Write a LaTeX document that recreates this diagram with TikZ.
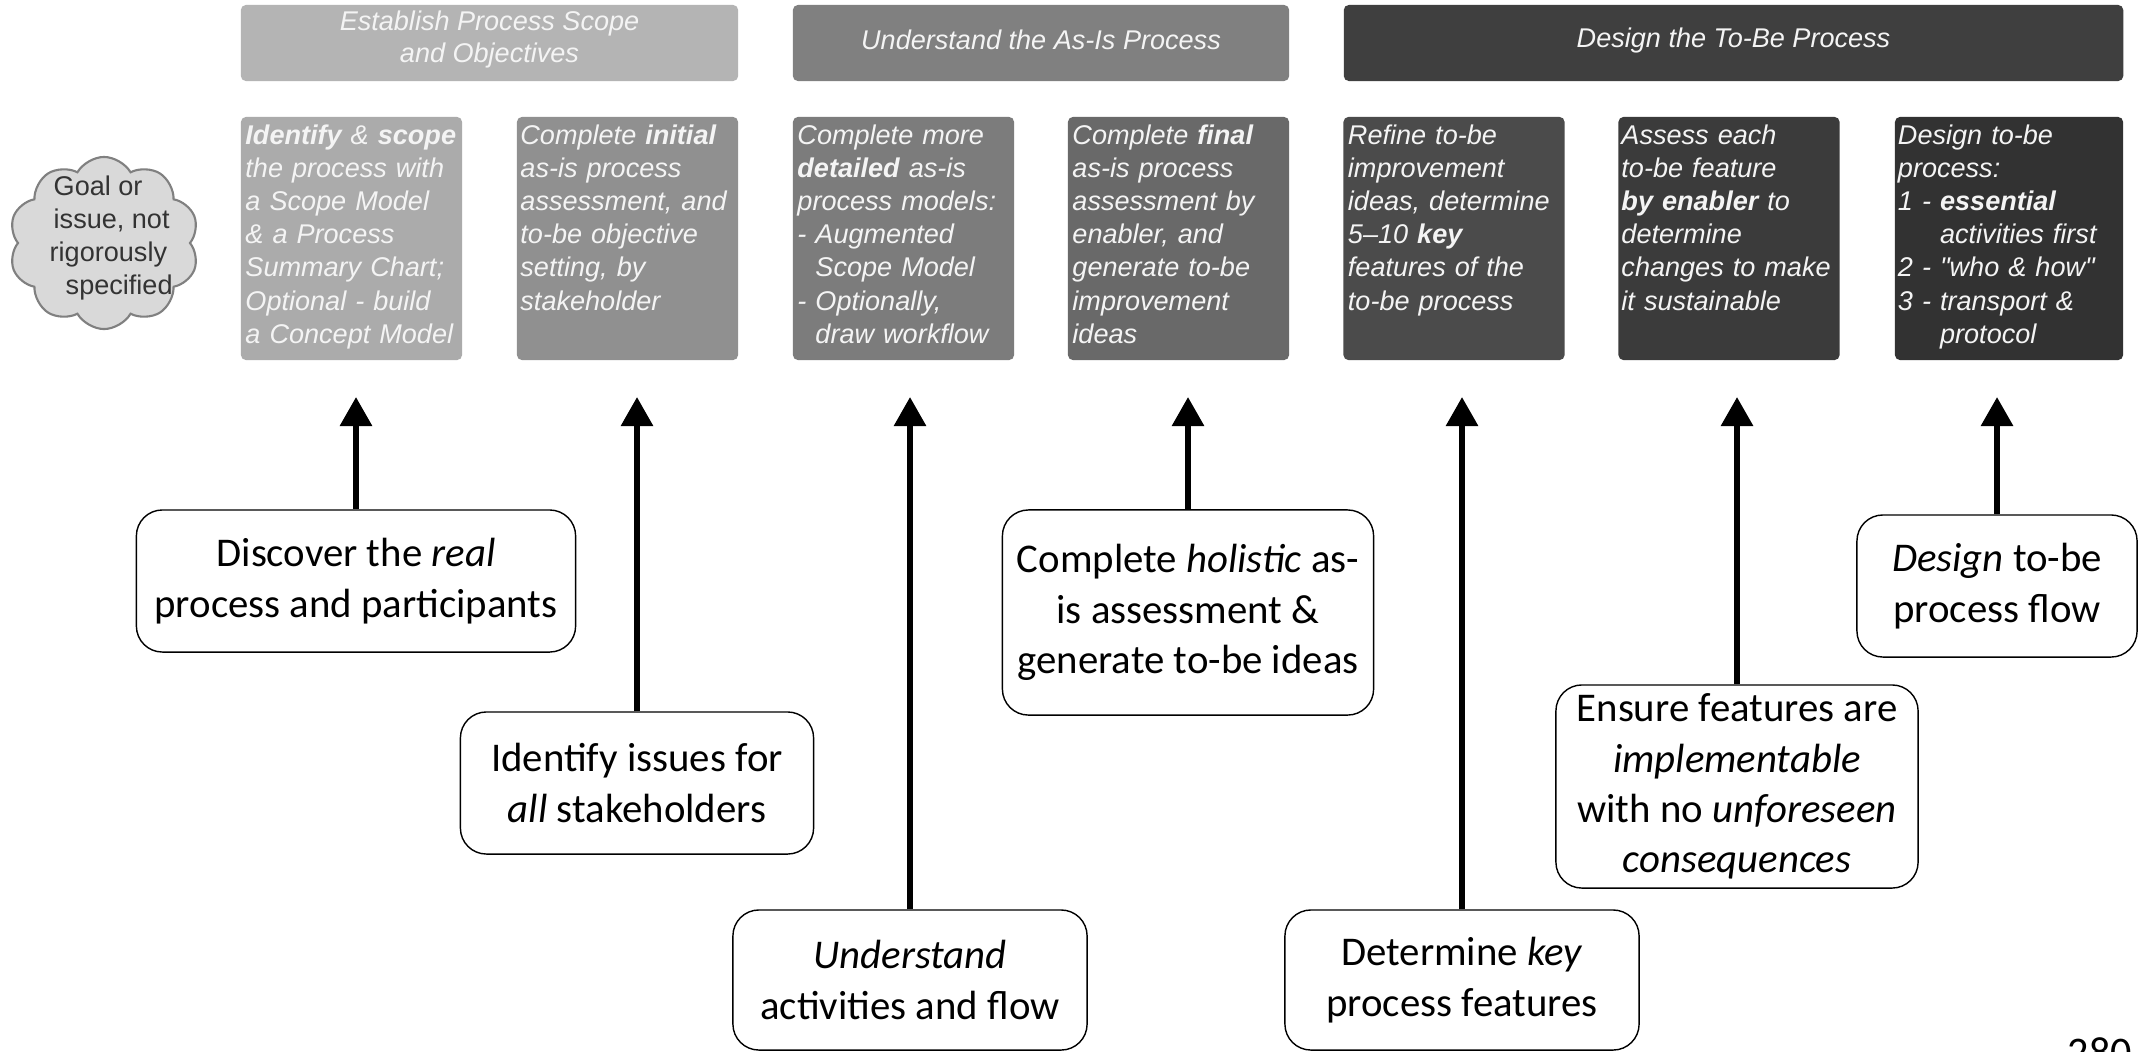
\documentclass[tikz,border=0pt]{standalone}
\usepackage{fontspec}
\setmainfont{Carlito}
\newfontfamily\arialf{Liberation Sans}
\usetikzlibrary{arrows.meta,shapes.symbols}

\definecolor{hdA}{HTML}{B4B4B4}
\definecolor{bxA}{HTML}{ABABAB}
\definecolor{bxB}{HTML}{909090}
\definecolor{hdB}{HTML}{808080}
\definecolor{bxC}{HTML}{7C7C7C}
\definecolor{bxD}{HTML}{696969}
\definecolor{bxE}{HTML}{4B4B4B}
\definecolor{hdC}{HTML}{3F3F3F}
\definecolor{bxF}{HTML}{3B3B3B}
\definecolor{bxG}{HTML}{323232}
\definecolor{txtL}{HTML}{F4F4F4}
\definecolor{cloudF}{HTML}{D9D9D9}
\definecolor{cloudD}{HTML}{808080}
\definecolor{cloudT}{HTML}{333333}

\begin{document}
\begin{tikzpicture}[x=0.01cm,y=-0.01cm,
  phase/.style={rounded corners=0.05cm, inner sep=0, minimum height=0.76cm},
  stepbox/.style={rounded corners=0.05cm, inner sep=0, minimum width=2.21cm, minimum height=2.43cm},
  phasetext/.style={font=\arialf\itshape\fontsize{7.7}{9.1}\selectfont, text=txtL, align=center, inner sep=0},
  boxtext/.style={font=\arialf\itshape\fontsize{7.7}{9.45}\selectfont, text=txtL, align=left, inner sep=0, anchor=north west, text width=2.17cm},
  note/.style={draw=black, line width=0.4pt, fill=white, rounded corners=0.26cm, align=center, inner sep=0, font=\fontsize{11.6}{14.3}\selectfont},
  arr/.style={line width=1.7pt, -{Triangle[width=0.31cm,length=0.29cm]}}
]
\useasboundingbox (0,0) rectangle (2140,1051);
\fill[white] (0,0) rectangle (2140,1051);

% phase headers
\node[phase, fill=hdA, minimum width=4.97cm] (h1) at (489.5,43) {};
\node[phasetext] (h1t) at (489.5,39) {Establish Process Scope\\and Objectives};
\node[phase, fill=hdB, minimum width=4.96cm] (h2) at (1041,43) {};
\node[phasetext] (h2t) at (1041,40) {Understand the As-Is Process};
\node[phase, fill=hdC, minimum width=7.79cm] (h3) at (1733.5,43) {};
\node[phasetext] (h3t) at (1733.5,40) {Design the To-Be Process};

% step boxes
\node[stepbox, fill=bxA] (b1) at (351.5,238.5) {};
\node[stepbox, fill=bxB] (b2) at (627.5,238.5) {};
\node[stepbox, fill=bxC] (b3) at (903.5,238.5) {};
\node[stepbox, fill=bxD] (b4) at (1178.5,238.5) {};
\node[stepbox, fill=bxE] (b5) at (1454,238.5) {};
\node[stepbox, fill=bxF] (b6) at (1729,238.5) {};
\node[stepbox, fill=bxG, minimum width=2.28cm] (b7) at (2009,238.5) {};

\node[boxtext] (b1t) at ([xshift=0.045cm,yshift=-0.075cm]b1.north west)
 {\bfseries Identify\mdseries{} \& \bfseries scope\mdseries\\the process with\\a Scope Model\\\& a Process\\Summary Chart;\\Optional - build\\a Concept Model};
\node[boxtext] (b2t) at ([xshift=0.035cm,yshift=-0.075cm]b2.north west)
 {Complete \textbf{initial}\\as-is process\\assessment, and\\to-be objective\\setting, by\\stakeholder};
\node[boxtext] (b3t) at ([xshift=0.045cm,yshift=-0.075cm]b3.north west)
 {Complete more\\\textbf{detailed} as-is\\process models:\\- Augmented\\\phantom{-\ }Scope Model\\- Optionally,\\\phantom{-\ }draw workflow};
\node[boxtext] (b4t) at ([xshift=0.045cm,yshift=-0.075cm]b4.north west)
 {Complete \textbf{final}\\as-is process\\assessment by\\enabler, and\\generate to-be\\improvement\\ideas};
\node[boxtext] (b5t) at ([xshift=0.045cm,yshift=-0.075cm]b5.north west)
 {Refine to-be\\improvement\\ideas, determine\\5–10 \textbf{key}\\features of the\\to-be process};
\node[boxtext] (b6t) at ([xshift=0.03cm,yshift=-0.075cm]b6.north west)
 {Assess each\\to-be feature\\\textbf{by enabler} to\\determine\\changes to make\\it sustainable};
\node[boxtext] (b7t) at ([xshift=0.03cm,yshift=-0.075cm]b7.north west)
 {Design to-be\\process:\\1 - \textbf{essential}\\\phantom{1 - }activities first\\2 - "who \& how"\\3 - transport \&\\\phantom{1 - }protocol};

% cloud
\node[cloud, cloud puffs=10, cloud puff arc=120, aspect=1.1, fill=cloudF, draw=cloudD, line width=0.6pt, minimum width=1.9cm, minimum height=1.72cm, inner sep=0] (goal) at (104,243) {};
\node[anchor=west, align=left, font=\arialf\fontsize{7.7}{9.45}\selectfont, text=cloudT, inner sep=0] (goalt) at (49,238)
 {\hspace*{0.04cm}Goal or\\\hspace*{0.04cm}issue, not\\rigorously\\\hspace*{0.16cm}specified};

% lower notes
\node[note, minimum width=4.39cm, minimum height=1.42cm] (disc) at (356,581) {Discover the \textit{real}\\process and participants};
\node[note, minimum width=3.53cm, minimum height=1.42cm] (iden) at (637,783) {Identify issues for\\\textit{all} stakeholders};
\node[note, minimum width=3.54cm, minimum height=1.40cm] (unds) at (910,980) {\textit{Understand}\\activities and flow};
\node[note, minimum width=3.71cm, minimum height=2.05cm] (holi) at (1188,612.5) {Complete \textit{holistic} as-\\is assessment \&\\generate to-be ideas};
\node[note, minimum width=3.54cm, minimum height=1.40cm] (dete) at (1462,980) {Determine \textit{key}\\process features};
\node[note, minimum width=3.62cm, minimum height=2.03cm] (ensu) at (1737,786.5) {Ensure features are\\\textit{implementable}\\with no \textit{unforeseen}\\\textit{consequences}};
\node[note, minimum width=2.80cm, minimum height=1.42cm] (desn) at (1997,586) {\textit{Design} to-be\\process flow};

% arrow tips
\coordinate (t1) at (disc.north |- 0,397);
\coordinate (t2) at (iden.north |- 0,397);
\coordinate (t3) at (unds.north |- 0,397);
\coordinate (t4) at (holi.north |- 0,397);
\coordinate (t5) at (dete.north |- 0,397);
\coordinate (t6) at (ensu.north |- 0,397);
\coordinate (t7) at (desn.north |- 0,397);
\draw[arr] (disc.north) -- (t1);
\draw[arr] (iden.north) -- (t2);
\draw[arr] (unds.north) -- (t3);
\draw[arr] (holi.north) -- (t4);
\draw[arr] (dete.north) -- (t5);
\draw[arr] (ensu.north) -- (t6);
\draw[arr] (desn.north) -- (t7);

\node[anchor=north west, font=\fontsize{12}{14}\selectfont, inner sep=0] (pg) at (2067,1037) {280};
\end{tikzpicture}
\end{document}
